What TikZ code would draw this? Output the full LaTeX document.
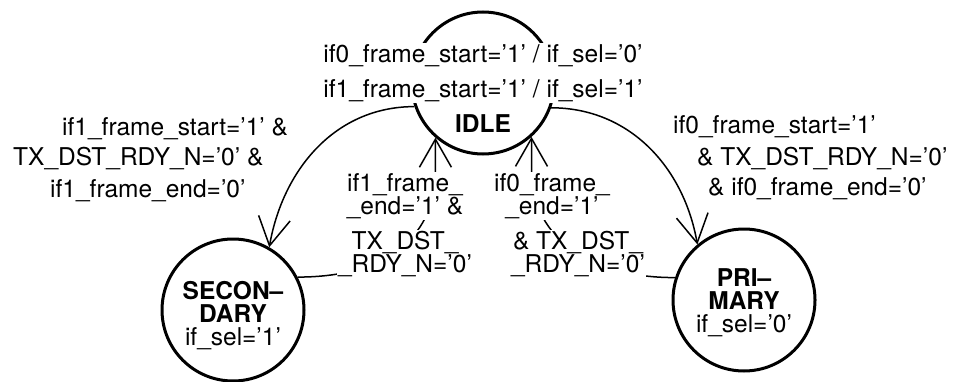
\documentclass[tikz,border=0pt]{standalone}
\usepackage{fontspec}
\setmainfont{TeX Gyre Heros}
\usepackage{tikz}
\usetikzlibrary{arrows.meta,calc}

\begin{document}
\begin{tikzpicture}[
    x=1pt, y=1pt,
    state/.style={draw=black, circle, line width=3pt, minimum size=142pt, inner sep=0pt},
    sname/.style={align=center, inner sep=0pt, font=\fontsize{24.5}{23}\selectfont},
    cond/.style={align=center, inner sep=1pt, fill=white, font=\fontsize{24.5}{23}\selectfont},
    guard/.style={anchor=base west, inner sep=0pt, font=\fontsize{24.5}{23}\selectfont},
    arrow/.style={-{Straight Barb[length=28pt, width=32pt]}, line width=1.5pt, draw=black}
]
    \useasboundingbox (0,0) rectangle (955,381);

    % States
    \node[state] (idle) at (483, 298) {};
    \node[state] (sec) at (233, 71) {};
    \node[state] (pri) at (744, 81) {};

    \node[sname] (idlename) at ([yshift=-41pt]idle.center) {\textbf{IDLE}};
    \node[sname] (secname) at ([yshift=-6pt]sec.center) {\textbf{SECON--}\\\textbf{DARY}\\if\_sel='1'};
    \node[sname] (priname) at ([yshift=-3pt]pri.center) {\textbf{PRI--}\\\textbf{MARY}\\if\_sel='0'};

    % Transitions out of IDLE
    \draw[arrow] (idle.199) to[out=180, in=80] (sec.60);
    \draw[arrow] (idle.340) to[out=0, in=100] (pri.130);

    % Transitions back to IDLE
    \draw[arrow] (sec.27) .. controls +(95,0) and +(0,-60) .. ($(idle.229)+(0,-34)$) -- (idle.229);
    \draw[arrow] (pri.162) .. controls +(-95,0) and +(0,-60) .. ($(idle.312)+(0,-34)$) -- (idle.312);

    % Output of IDLE
    \node[cond] (idleout) at (483, 308) {if0\_frame\_start='1' / if\_sel='0'\\[12pt]if1\_frame\_start='1' / if\_sel='1'};

    % Guards on the return arcs
    \node[cond] (secenda) at (405, 185) {if1\_frame\_\\\_end='1' \&};
    \node[cond] (secendb) at (405, 127) {TX\_DST\_\\\_RDY\_N='0'};
    \node[cond] (prienda) at (552, 185) {if0\_frame\_\\\_end='1'};
    \node[cond] (priendb) at (578, 127) {\& TX\_DST\_\\\_RDY\_N='0'};

    % Guards on the outgoing arcs
    \node[guard] (secgo1) at (62, 246) {if1\_frame\_start='1' \&};
    \node[guard] (secgo2) at (13, 216) {TX\_DST\_RDY\_N='0' \&};
    \node[guard] (secgo3) at (50, 184) {if1\_frame\_end='0'};
    \node[guard] (prigo1) at (673, 248) {if0\_frame\_start='1'};
    \node[guard] (prigo2) at (697, 216) {\& TX\_DST\_RDY\_N='0'};
    \node[guard] (prigo3) at (708, 186) {\& if0\_frame\_end='0'};

\end{tikzpicture}
\end{document}
